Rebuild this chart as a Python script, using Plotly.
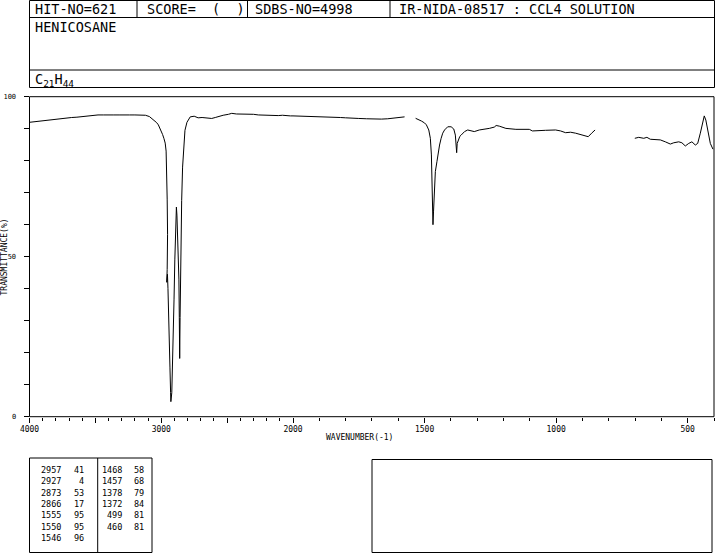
import plotly.graph_objects as go

W, H = 715, 553

# ---------------- data ----------------
seg1_wn = [4000, 3960, 3920, 3880, 3840, 3800, 3760, 3720, 3680, 3640, 3600, 3560, 3520, 3480, 3440,
           3400, 3360, 3320, 3280, 3240, 3200, 3160, 3120, 3090, 3070, 3050, 3035, 3022, 3010, 3000,
           2990, 2980, 2970, 2963, 2959, 2955, 2952, 2950, 2955, 2958, 2953, 2949, 2946, 2941, 2934,
           2929, 2927, 2920, 2914, 2909, 2903, 2897, 2890, 2885, 2881, 2878, 2873, 2869, 2866, 2863,
           2860, 2857, 2854, 2850, 2845, 2838, 2830, 2820, 2805, 2780, 2750, 2720, 2690, 2650, 2617,
           2590, 2567, 2530, 2490, 2465, 2430, 2400, 2364, 2330, 2300, 2263, 2220, 2180, 2150, 2112,
           2080, 2050, 2020, 2000, 1960, 1930, 1900, 1879, 1850, 1820, 1800, 1778, 1750, 1720, 1700,
           1680, 1664, 1640, 1626, 1600, 1576]
seg1_t = [92.0, 92.2, 92.5, 92.7, 92.8, 93.0, 93.1, 93.3, 93.5, 93.6, 93.8, 94.0, 94.1, 94.3, 94.3,
          94.4, 94.3, 94.3, 94.4, 94.3, 94.3, 94.2, 94.2, 93.8, 93.2, 92.6, 91.9, 91.2, 90.2, 89.3,
          88.2, 87.0, 85.5, 83.0, 78.0, 68.0, 57.0, 47.0, 46.0, 42.0, 44.5, 40.0, 36.5, 26.0, 15.5,
          7.5, 4.7, 7.5, 15.5, 26.0, 36.5, 49.0, 57.5, 65.5, 63.0, 59.5, 57.5, 53.0, 43.0, 31.0,
          18.2, 31.0, 47.0, 57.5, 67.5, 78.0, 85.3, 89.5, 92.0, 93.7, 93.9, 93.4, 93.5, 93.3, 93.2,
          93.5, 93.8, 94.2, 94.5, 94.8, 94.6, 94.6, 94.5, 94.4, 94.5, 94.3, 94.2, 94.3, 94.1, 94.1,
          94.2, 94.0, 94.0, 94.0, 93.9, 94.0, 93.8, 93.7, 93.6, 93.5, 93.4, 93.4, 93.2, 93.1, 93.0,
          93.0, 93.0, 93.1, 93.25, 93.5, 93.7]

seg2_wn = [1534, 1520, 1512, 1500, 1493, 1484, 1478, 1474, 1472, 1470, 1468, 1466, 1463, 1459, 1453,
           1450, 1443, 1437, 1431, 1424, 1412, 1399, 1389, 1383, 1380, 1378, 1376, 1372, 1366, 1361,
           1348, 1336, 1323, 1311, 1292, 1273, 1254, 1235, 1228, 1216, 1191, 1153, 1102, 1090, 1064,
           1040, 1002, 983, 964, 945, 926, 907, 888, 878, 865, 852]
seg2_t = [93.25, 92.8, 92.4, 91.8, 91.2, 89.6, 87.0, 81.8, 72.4, 65.0, 60.0, 64.0, 71.4, 76.6, 79.7,
          81.8, 84.9, 87.0, 88.6, 89.6, 90.6, 90.6, 89.9, 88.0, 84.5, 82.5, 85.4, 86.5, 87.6, 88.0,
          89.1, 89.6, 89.3, 89.1, 89.6, 89.8, 90.1, 90.5, 91.0, 90.8, 90.1, 89.8, 89.8, 89.3, 89.3,
          89.5, 89.6, 89.3, 88.75, 88.9, 88.6, 88.25, 87.7, 87.5, 88.6, 89.6]

seg3_wn = [701, 686, 667, 655, 642, 623, 604, 585, 566, 553, 534, 522, 509, 496, 484, 471, 462, 452,
           443, 437, 431, 423, 414, 404]
seg3_t = [87.0, 87.3, 87.0, 87.3, 86.7, 86.7, 86.5, 85.9, 85.2, 85.6, 85.9, 85.6, 84.6, 85.4, 85.9,
          84.9, 85.4, 88.6, 92.2, 94.0, 92.7, 88.6, 85.4, 83.6]

peak_col1_wn = ["2957", "2927", "2873", "2866", "1555", "1550", "1546"]
peak_col1_t = ["41", "4", "53", "17", "95", "95", "96"]
peak_col2_wn = ["1468", "1457", "1378", "1372", "499", "460"]
peak_col2_t = ["58", "68", "79", "84", "81", "81"]

header_items = ["HIT-NO=621", "SCORE=  (  )", "SDBS-NO=4998", "IR-NIDA-08517 : CCL4 SOLUTION"]
compound_name = "HENICOSANE"
formula = "C<sub>21</sub>H<sub>44</sub>"

x1_ticks = [4000, 3000, 2000]
x1_text = ["4000", "3000", "2000"]
x1_long_unlabeled = [3500, 2500]
x2_ticks = [1500, 1000, 500]
x2_text = ["1500", "1000", "500"]
y_ticks = [0, 50, 100]
y_text = ["0", "50", "100"]

# ---------------- helpers ----------------
def px(x):
    return x / W

def py(y):
    return 1 - y / H

MONO = "DejaVu Sans Mono"
LINE = dict(color="black", width=1)

fig = go.Figure()

def add_segment(wn, t):
    hi = [(w, v) for w, v in zip(wn, t) if w >= 2000]
    lo = [(w, v) for w, v in zip(wn, t) if w <= 2000]
    if len(hi) > 1:
        fig.add_trace(go.Scatter(x=[p[0] for p in hi], y=[p[1] for p in hi], mode="lines",
                                 line=LINE, xaxis="x", yaxis="y", showlegend=False, hoverinfo="skip"))
    if len(lo) > 1:
        fig.add_trace(go.Scatter(x=[p[0] for p in lo], y=[p[1] for p in lo], mode="lines",
                                 line=LINE, xaxis="x2", yaxis="y", showlegend=False, hoverinfo="skip"))

add_segment(seg1_wn, seg1_t)
add_segment(seg2_wn, seg2_t)
add_segment(seg3_wn, seg3_t)

L, R, T, B, BRK = 29.5, 714.0, 96.7, 416.7, 293.0

tickfont = dict(family=MONO, size=8, color="black")
xcommon = dict(showgrid=False, zeroline=False, showline=False, ticks="outside", ticklen=5,
               tickwidth=1, tickcolor="black", tickfont=tickfont, anchor="y", automargin=False,
               minor=dict(dtick=100, tick0=0, ticks="outside", ticklen=3, tickwidth=1,
                          tickcolor="black", showgrid=False))

fig.update_layout(
    template="none",
    width=W, height=H, autosize=False, margin=dict(l=0, r=0, t=0, b=0, pad=0, autoexpand=False),
    paper_bgcolor="white", plot_bgcolor="white", showlegend=False,
    xaxis=dict(domain=[px(L), px(BRK)], range=[4000, 2000], tickmode="array",
               tickvals=x1_ticks, ticktext=x1_text, **xcommon),
    xaxis3=dict(domain=[px(L), px(BRK)], range=[4000, 2000], overlaying="x", anchor="y",
                tickmode="array", tickvals=x1_long_unlabeled, showticklabels=False,
                ticks="outside", ticklen=5, tickwidth=1, tickcolor="black", automargin=False,
                showgrid=False, zeroline=False, showline=False),
    xaxis2=dict(domain=[px(BRK), px(R)], range=[2000, 400], tickmode="array",
                tickvals=x2_ticks, ticktext=x2_text, **xcommon),
    yaxis=dict(domain=[py(B), py(T)], range=[0, 100], tickmode="array", tickvals=y_ticks,
               ticktext=y_text, showgrid=False, zeroline=False, showline=False, automargin=False,
               ticks="outside", ticklen=5, tickwidth=1, tickcolor="black",
               tickfont=dict(family=MONO, size=7, color="black"),
               ticklabelstandoff=6,
               minor=dict(dtick=10, tick0=0, ticks="outside", ticklen=5, tickwidth=1,
                          tickcolor="black", showgrid=False)),
)
fig.add_trace(go.Scatter(x=[4000, 2000], y=[None, None], mode="lines", xaxis="x3", yaxis="y",
                         showlegend=False, hoverinfo="skip"))

shapes = []
def hline(x0, x1, y):
    shapes.append(dict(type="line", xref="paper", yref="paper", x0=px(x0), x1=px(x1),
                       y0=py(y), y1=py(y), line=LINE))
def vline(x, y0, y1):
    shapes.append(dict(type="line", xref="paper", yref="paper", x0=px(x), x1=px(x),
                       y0=py(y0), y1=py(y1), line=LINE))
def rect(x0, y0, x1, y1):
    shapes.append(dict(type="rect", xref="paper", yref="paper", x0=px(x0), x1=px(x1),
                       y0=py(y0), y1=py(y1), line=LINE, fillcolor="rgba(0,0,0,0)"))

rect(L, T, R, B)
rect(L, 0.5, 714.5, 87.5)
hline(L, 714.5, 17.5)
hline(L, 714.5, 70.0)
for xs in [137.0, 247.5, 390.0]:
    vline(xs, 0.5, 17.5)
rect(L, 458.0, 152.0, 552.5)
vline(97.7, 458.0, 552.5)
rect(372.0, 459.5, 712.0, 552.5)

fig.update_layout(shapes=shapes)

ann = []
hfont = dict(family=MONO, size=13.5, color="black")
for txt, xx in zip(header_items, [32.5, 145.0, 253.0, 397.0]):
    ann.append(dict(text=txt, x=px(xx), y=py(9.5), xref="paper", yref="paper",
                    xanchor="left", yanchor="middle", showarrow=False, font=hfont))
ann.append(dict(text=compound_name, x=px(32.5), y=py(27), xref="paper", yref="paper",
                xanchor="left", yanchor="middle", showarrow=False, font=hfont))
ann.append(dict(text=formula, x=px(32.5), y=py(79.5), xref="paper", yref="paper",
                xanchor="left", yanchor="middle", showarrow=False, font=hfont))

tfont = dict(family=MONO, size=8.5, color="black")
for i, (a, b) in enumerate(zip(peak_col1_wn, peak_col1_t)):
    yy = 470 + 11.3 * i
    ann.append(dict(text=a, x=px(63), y=py(yy), xref="paper", yref="paper", xanchor="right",
                    yanchor="middle", showarrow=False, font=tfont))
    ann.append(dict(text=b, x=px(86), y=py(yy), xref="paper", yref="paper", xanchor="right",
                    yanchor="middle", showarrow=False, font=tfont))
for i, (a, b) in enumerate(zip(peak_col2_wn, peak_col2_t)):
    yy = 470 + 11.3 * i
    ann.append(dict(text=a, x=px(124), y=py(yy), xref="paper", yref="paper", xanchor="right",
                    yanchor="middle", showarrow=False, font=tfont))
    ann.append(dict(text=b, x=px(146), y=py(yy), xref="paper", yref="paper", xanchor="right",
                    yanchor="middle", showarrow=False, font=tfont))

afont = dict(family=MONO, size=8, color="black")
ann.append(dict(text="WAVENUMBER(-1)", x=px(359.5), y=py(437), xref="paper", yref="paper",
                xanchor="center", yanchor="middle", showarrow=False, font=afont))
ann.append(dict(text="TRANSMITTANCE(%)", x=px(3.5), y=py(257), xref="paper", yref="paper",
                xanchor="center", yanchor="middle", showarrow=False,
                font=dict(family=MONO, size=8, color="black"), textangle=-90))

fig.update_layout(annotations=ann)

post = ("document.body.style.margin='0';document.body.style.padding='0';"
        "document.body.style.overflow='hidden';")
fig.write_html("out.html", config={"responsive": False, "displayModeBar": False},
               default_width="715px", default_height="553px", post_script=post)
